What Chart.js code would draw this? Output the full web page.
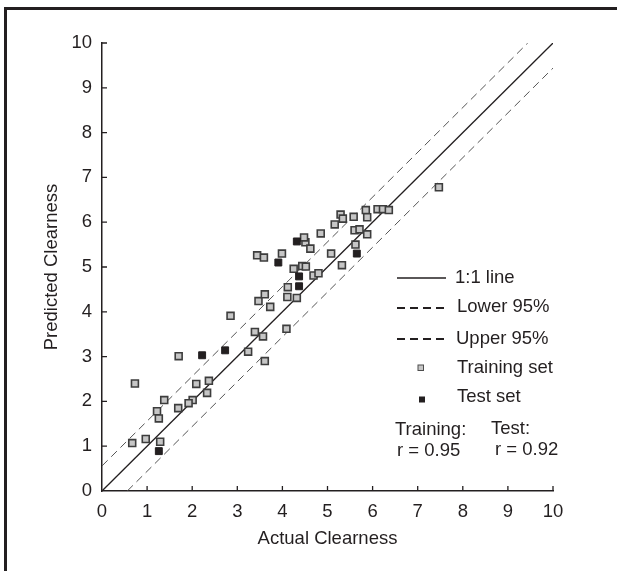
<!DOCTYPE html>
<html lang="en">
<head>
  <meta charset="UTF-8">
  <title>Predicted vs Actual Clearness</title>
  <script src="https://cdn.jsdelivr.net/npm/chart.js"></script>
  <style>
    html, body {
      margin: 0;
      background: #fff;
      overflow: hidden;
    }
    #chart {
      display: block;
    }
  </style>
</head>
<body>
<canvas id="chart" width="617" height="571"></canvas>
<script>
// values
const trainX = [0.73, 1.70, 3.24, 2.09, 2.37, 2.33, 1.38, 2.01, 1.92, 1.69, 1.22, 1.26, 0.67, 0.97, 1.29,
  2.85, 3.39, 3.57, 3.61, 4.09, 3.47, 3.61, 3.73, 4.11, 4.12, 4.32, 4.25, 4.44, 4.52, 4.69,
  4.80, 5.08, 5.32, 3.44, 3.59, 3.99, 4.51, 4.62, 4.48, 4.85,
  7.47, 5.16, 5.29, 5.34, 5.58, 5.85, 5.88, 6.11, 6.23, 6.36, 5.60, 5.71, 5.88, 5.62];
const trainY = [2.40, 3.01, 3.11, 2.39, 2.46, 2.19, 2.03, 2.03, 1.96, 1.85, 1.78, 1.62, 1.07, 1.16, 1.10,
  3.91, 3.55, 3.45, 2.90, 3.62, 4.24, 4.39, 4.11, 4.33, 4.55, 4.31, 4.96, 5.02, 5.01, 4.81,
  4.86, 5.30, 5.04, 5.26, 5.21, 5.30, 5.55, 5.41, 5.66, 5.75,
  6.78, 5.95, 6.17, 6.08, 6.12, 6.27, 6.11, 6.29, 6.29, 6.27, 5.82, 5.84, 5.73, 5.50];
const testX = [1.26, 2.22, 2.73, 4.37, 4.37, 3.91, 4.32, 5.65];
const testY = [0.89, 3.03, 3.14, 4.57, 4.79, 5.10, 5.57, 5.30];

// reference lines (end points)
const oneX = [0, 10];
const oneY = [0, 10];
const upperX = [0, 9.44];
const upperY = [0.56, 10];
const lowerX = [0.56, 10];
const lowerY = [0, 9.44];

const axisTicks = [0, 1, 2, 3, 4, 5, 6, 7, 8, 9, 10];
const legendLabels = ['1:1 line', 'Lower 95%', 'Upper 95%', 'Training set', 'Test set'];
const statLabels = ['Training:', 'r = 0.95', 'Test:', 'r = 0.92'];

const ink = '#231f20';
const font = { family: '"Liberation Sans", Arial, sans-serif', size: 18.5 };
const pts = (xs, ys) => xs.map((x, i) => ({ x: x, y: ys[i] }));

// figure frame (top and left edge only, the rest is cropped)
const frame = {
  id: 'frame',
  beforeDraw(chart) {
    const c = chart.ctx;
    c.save();
    c.fillStyle = '#fff';
    c.fillRect(0, 0, chart.width, chart.height);
    c.fillStyle = ink;
    c.fillRect(4, 7, chart.width - 4, 3);
    c.fillRect(4, 7, 3, chart.height - 7);
    c.restore();
  }
};

// inward tick marks, legend and r values
const extras = {
  id: 'extras',
  afterDraw(chart) {
    const c = chart.ctx;
    const xs = chart.scales.x, ys = chart.scales.y;
    c.save();
    c.strokeStyle = ink;
    c.lineWidth = 1.3;
    axisTicks.slice(1).forEach(t => {
      const px = xs.getPixelForValue(t), py = ys.getPixelForValue(t);
      c.beginPath();
      c.moveTo(px, ys.bottom); c.lineTo(px, ys.bottom - 5);
      c.moveTo(xs.left, py); c.lineTo(xs.left + 5, py);
      c.stroke();
    });

    // legend
    c.font = font.size + 'px ' + font.family;
    c.fillStyle = ink;
    c.textBaseline = 'middle';
    c.textAlign = 'left';
    c.lineWidth = 1.3;
    c.beginPath(); c.moveTo(397, 278); c.lineTo(446, 278); c.stroke();
    c.fillText(legendLabels[0], 455, 278);
    c.lineWidth = 2;
    c.setLineDash([8, 5]);
    c.beginPath(); c.moveTo(397, 308); c.lineTo(444, 308); c.stroke();
    c.beginPath(); c.moveTo(397, 339); c.lineTo(444, 339); c.stroke();
    c.setLineDash([]);
    c.fillText(legendLabels[1], 457, 307);
    c.fillText(legendLabels[2], 456, 338.5);
    c.fillStyle = '#c6c6c6';
    c.fillRect(418, 365, 5.5, 5.5);
    c.lineWidth = 1;
    c.strokeStyle = '#4d4d4d';
    c.strokeRect(418, 365, 5.5, 5.5);
    c.fillStyle = ink;
    c.fillRect(419, 396.5, 6, 6);
    c.fillText(legendLabels[3], 457, 368);
    c.fillText(legendLabels[4], 457, 396.5);

    c.fillText(statLabels[0], 395, 429.5);
    c.fillText(statLabels[1], 397, 450.5);
    c.fillText(statLabels[2], 491, 428.5);
    c.fillText(statLabels[3], 495, 450);
    c.restore();
  }
};

const axis = (title, pad) => ({
  type: 'linear',
  min: 0,
  max: 10,
  grid: { display: false, drawTicks: false },
  border: { display: true, color: ink, width: 1.5 },
  ticks: {
    stepSize: 1,
    color: ink,
    font: font,
    padding: 10,
    callback: v => axisTicks.includes(v) ? String(v) : ''
  },
  title: { display: true, text: title, color: ink, font: font, padding: pad }
});

const xAxis = axis('Actual Clearness', { top: 0, bottom: 21 });
xAxis.afterFit = s => { s.height = 80; };
const yAxis = axis('Predicted Clearness', { top: 41, bottom: 0 });
yAxis.afterFit = s => { s.width = 102; };

new Chart(document.getElementById('chart'), {
  type: 'scatter',
  data: {
    datasets: [
      { label: 'Test set', data: pts(testX, testY), pointStyle: 'rect', pointRadius: 4.9,
        backgroundColor: ink, borderColor: ink, borderWidth: 1, order: 0 },
      { label: 'Training set', data: pts(trainX, trainY), pointStyle: 'rect', pointRadius: 4.9,
        backgroundColor: '#c6c6c6', borderColor: '#3d3d3d', borderWidth: 1.6, order: 1 },
      { label: '1:1 line', data: pts(oneX, oneY), showLine: true, pointRadius: 0,
        borderColor: ink, borderWidth: 1.3, order: 2 },
      { label: 'Upper 95%', data: pts(upperX, upperY), showLine: true, pointRadius: 0,
        borderColor: '#555', borderWidth: 1, borderDash: [8, 5], order: 3 },
      { label: 'Lower 95%', data: pts(lowerX, lowerY), showLine: true, pointRadius: 0,
        borderColor: '#555', borderWidth: 1, borderDash: [8, 5], order: 4 }
    ]
  },
  options: {
    responsive: false,
    animation: false,
    layout: { padding: { top: 43, right: 64, bottom: 0, left: 0 } },
    plugins: { legend: { display: false }, tooltip: { enabled: false } },
    scales: { x: xAxis, y: yAxis }
  },
  plugins: [frame, extras]
});
</script>
</body>
</html>
